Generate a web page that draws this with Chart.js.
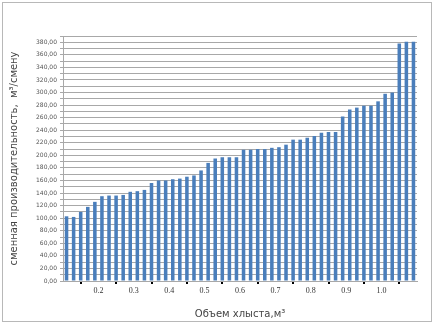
<!DOCTYPE html>
<html>
<head>
<meta charset="utf-8">
<script src="https://cdn.jsdelivr.net/npm/chart.js@4"></script>
<style>
  html, body { margin: 0; padding: 0; background: #fff; }
  #wrap { position: relative; width: 435px; height: 324px; }
  #frame { position: absolute; left: 2px; top: 2px; width: 428px; height: 318px; border: 1px solid #b8b8b8; }
  canvas { position: absolute; left: 0; top: 0; }
</style>
</head>
<body>
<div id="wrap">
  <div id="frame"></div>
  <canvas id="myChart" width="435" height="324"></canvas>
</div>
<script>
// сменная производительность, м3/смену (50 bars, sorted)
const values = [
  103, 102, 110, 118, 126, 135, 136, 136, 137, 142,
  143, 145, 156, 160, 160, 162, 163, 166, 168, 176,
  188, 195, 197, 197, 197, 209, 209, 210, 210, 212,
  213, 217, 225, 225, 228, 231, 236, 237, 237, 262,
  273, 276, 279, 279, 286, 298, 300, 378, 381, 381
];
// labels under every 5th tick on the x axis
const xTickLabels = ["", "0.2", "0.3", "0.4", "0.5", "0.6", "0.7", "0.8", "0.9", "1.0", ""];
const yTitle = "сменная производительность,  м³/смену";
const xTitle = "Объем хлыста,м³";

const points = values.map((v, i) => ({ x: i + 0.5, y: v }));

const ctx = document.getElementById("myChart").getContext("2d");
const myChart = new Chart(ctx, {
  type: "bar",
  data: {
    datasets: [
      {
        label: "производительность",
        data: points,
        backgroundColor: "#4a7ebb",
        borderWidth: 0,
        barPercentage: 0.5,
        categoryPercentage: 1,
      },
    ],
  },
  options: {
    responsive: false,
    animation: false,
    layout: {
      padding: { left: 8, right: 18, top: 36, bottom: 4 },
    },
    plugins: {
      legend: { display: false },
      tooltip: { enabled: false },
    },
    scales: {
      x: {
        type: "linear",
        min: 0,
        max: 50,
        offset: false,
        afterFit: (scale) => {
          scale.height = 39;
        },
        ticks: {
          stepSize: 5,
          autoSkip: false,
          maxRotation: 0,
          padding: 2,
          color: "#333",
          font: { family: "Liberation Serif", size: 8 },
          callback: (value) => xTickLabels[value / 5],
        },
        grid: {
          drawOnChartArea: false,
          color: "#000",
          lineWidth: 2,
          tickLength: 3,
        },
        border: { color: "#a8a8a8" },
        title: {
          display: true,
          text: xTitle,
          color: "#444",
          font: { family: "DejaVu Sans", size: 10 },
          padding: { top: 4, bottom: 0 },
        },
      },
      y: {
        min: 0,
        max: 390,
        afterFit: (scale) => {
          scale.width = 55;
        },
        ticks: {
          stepSize: 10,
          autoSkip: false,
          padding: 3,
          color: "#555",
          font: { family: "DejaVu Sans", size: 6 },
          callback: (value) => (value % 20 === 0 ? value.toFixed(2).replace(".", ",") : ""),
        },
        grid: {
          color: "#a8a8a8",
          lineWidth: 1,
          tickLength: 3,
        },
        border: { color: "#a8a8a8" },
        title: {
          display: true,
          text: yTitle,
          color: "#444",
          font: { family: "DejaVu Sans", size: 10 },
          padding: { top: 0, bottom: 6 },
        },
      },
    },
  },
});
</script>
</body>
</html>
